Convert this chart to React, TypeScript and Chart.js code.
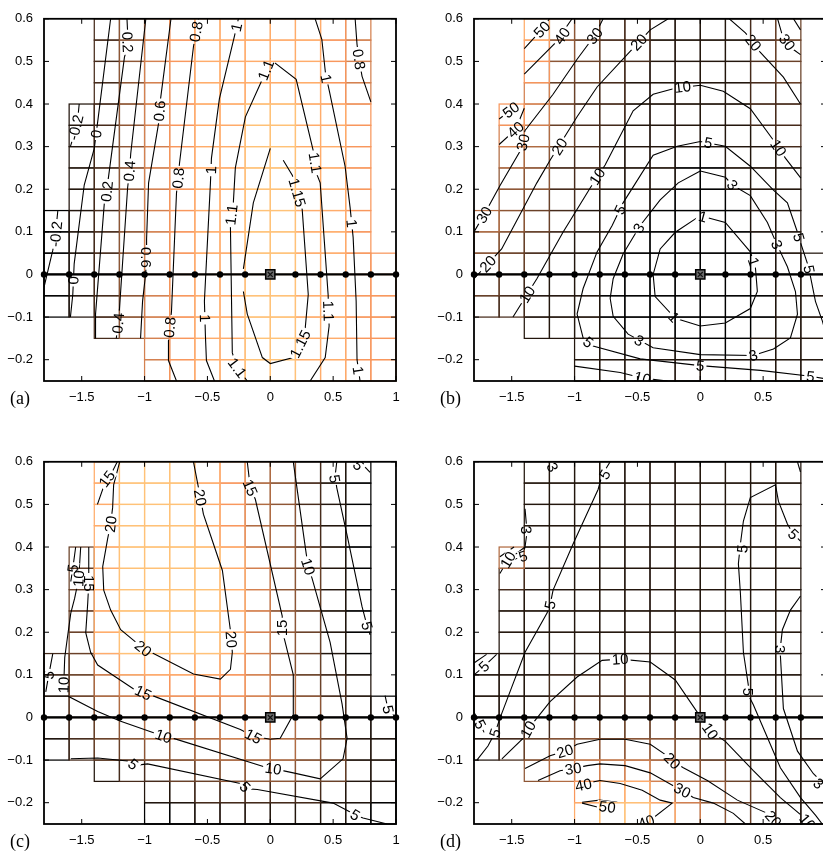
import React, { useEffect, useRef } from 'react';
import { Chart, registerables } from 'chart.js';
Chart.register(...registerables);

type Pt = [number, number];
interface Contour { text: string; lines: Pt[][]; labels: Pt[] }

// ---------- axes / mesh ----------
const xTicks = [-1.5, -1, -0.5, 0, 0.5, 1];
const yTicks = [-0.2, -0.1, 0, 0.1, 0.2, 0.3, 0.4, 0.5, 0.6];
const meshNodesX = [-1.8, -1.6, -1.4, -1.2, -1.0, -0.8, -0.6, -0.4, -0.2, 0, 0.2, 0.4, 0.6, 0.8, 1.0];
const cellEdgesX = [-1.8, -1.6, -1.4, -1.2, -1.0, -0.8, -0.6, -0.4, -0.2, 0, 0.2, 0.4, 0.6, 0.8, 1.0];
const cellEdgesY = [0.6, 0.55, 0.5, 0.45, 0.4, 0.35, 0.3, 0.25, 0.2, 0.15, 0.1, 0.05, 0, -0.05, -0.1, -0.15, -0.2, -0.25];
const sourcePoint: Pt = [0, 0];

// cell shade (0 = dark ... 9 = light orange), '.' = no cell; rows top->bottom, cols left->right
const shadeA = [
  '..24678888876.', '..24678888876.', '..24678888876.', '..24678888876.',
  '.124678899887.', '.124678899887.', '.124678899887.', '.124678899887.', '.124678899887.',
  '0124678899887.', '0124678899887.', '01246788998877', '01246788998877', '01246788998877',
  '..246788998877', '....6788998877', '....6788998877',
];
const shadeB = [
  '..84322111123.', '..74322111123.', '..73321111123.', '..63221111122.',
  '.763221111122.', '.653211111112.', '.542211100111.', '.442211100111.', '.432111000011.',
  '5432110000011.', '4321110000001.', '33211000000011', '32111000000011', '22111000000011',
  '..111000000011', '....1111000111', '....1111111111',
];
const shadeC = [
  '..89998754210.', '..89998754210.', '..89998754210.', '..89998754210.',
  '.389999864310.', '.389999864310.', '.389999864310.', '.389999864310.', '.389999864310.',
  '2368888764310.', '1356777765321.', '13456666654210', '12345556654210', '02334455554311',
  '..122334443311', '....1122222110', '....0011111100',
];
const shadeD = [
  '..11111111111.', '..11111111111.', '..11111111111.', '..11111111111.',
  '.511111111111.', '.211111111111.', '.111111111111.', '.111111111111.', '.111111111111.',
  '1111111111111.', '1112222211111.', '11122222211111', '11223333221111', '12344444321111',
  '..456665432111', '....7886543211', '....8998643211',
];

// ---------- contour lines & labels ----------
const contoursA: Contour[] = [
  { text: '-0.2', lines: [
    [[-1.52, 0.40], [-1.53, 0.37], [-1.57, 0.32], [-1.59, 0.30]],
    [[-1.69, 0.15], [-1.70, 0.12], [-1.71, 0.09], [-1.73, 0.057], [-1.78, -0.005], [-1.80, -0.03]],
  ], labels: [[-1.548, 0.345], [-1.705, 0.095]] },
  { text: '0', lines: [
    [[-1.27, 0.6], [-1.37, 0.365], [-1.40, 0.296], [-1.48, 0.21], [-1.56, 0.025], [-1.571, -0.047], [-1.59, -0.1]],
  ], labels: [[-1.385, 0.33], [-1.566, -0.014]] },
  { text: '0.2', lines: [
    [[-1.14, 0.6], [-1.13, 0.54], [-1.16, 0.51], [-1.29, 0.222], [-1.30, 0.19], [-1.32, 0.168], [-1.39, -0.093], [-1.39, -0.15]],
  ], labels: [[-1.135, 0.545], [-1.30, 0.195]] },
  { text: '0.4', lines: [
    [[-0.99, 0.6], [-1.11, 0.284], [-1.12, 0.243], [-1.135, 0.203], [-1.20, -0.082], [-1.21, -0.114], [-1.225, -0.15]],
  ], labels: [[-1.12, 0.243], [-1.21, -0.114]] },
  { text: '0.6', lines: [
    [[-0.79, 0.6], [-0.873, 0.412], [-0.881, 0.384], [-0.889, 0.354], [-0.968, 0.215], [-0.984, 0.083], [-0.984, 0.036], [-0.992, 0.0], [-1.016, -0.063], [-1.032, -0.15]],
  ], labels: [[-0.881, 0.384], [-0.984, 0.04]] },
  { text: '0.8', lines: [
    [[-0.571, 0.6], [-0.611, 0.535], [-0.722, 0.261], [-0.746, 0.191], [-0.786, -0.087], [-0.81, -0.156], [-0.81, -0.202], [-0.746, -0.25]],
    [[0.675, 0.6], [0.69, 0.54], [0.706, 0.505], [0.73, 0.465], [0.80, 0.405]],
  ], labels: [[-0.59, 0.57], [-0.732, 0.226], [-0.80, -0.124], [0.706, 0.505]] },
  { text: '1', lines: [
    [[-0.254, 0.6], [-0.286, 0.558], [-0.405, 0.412], [-0.468, 0.273], [-0.476, 0.215], [-0.524, -0.063], [-0.516, -0.144], [-0.508, -0.202], [-0.444, -0.25]],
    [[0.357, 0.6], [0.41, 0.552], [0.44, 0.47], [0.47, 0.43], [0.595, 0.254], [0.635, 0.157], [0.659, 0.087], [0.683, -0.063], [0.69, -0.2], [0.714, -0.25]],
  ], labels: [[-0.27, 0.58], [-0.472, 0.245], [-0.52, -0.103], [0.445, 0.46], [0.648, 0.12], [0.70, -0.225]] },
  { text: '1.1', lines: [
    [[-0.183, -0.25], [-0.262, -0.219], [-0.302, -0.184], [-0.317, 0.111], [-0.294, 0.168], [-0.278, 0.25], [-0.198, 0.37], [-0.063, 0.458], [0, 0.505], [0.206, 0.458], [0.341, 0.291], [0.373, 0.233], [0.397, 0.215], [0.46, -0.047], [0.468, -0.121], [0.437, -0.195], [0.317, -0.25]],
  ], labels: [[-0.262, -0.219], [-0.31, 0.14], [-0.035, 0.48], [0.357, 0.262], [0.463, -0.086]] },
  { text: '1.15', lines: [
    [[0, 0.296], [-0.135, 0.168], [-0.214, 0.013]],
    [[-0.214, -0.04], [-0.183, -0.093], [-0.063, -0.195], [0, -0.209], [0.183, -0.195], [0.238, -0.163], [0.278, -0.126], [0.302, -0.047], [0.254, 0.152], [0.214, 0.192], [0.175, 0.233], [0.103, 0.268]],
  ], labels: [[0.238, -0.163], [0.214, 0.192]] },
];

const contoursB: Contour[] = [
  { text: '50', lines: [
    [[-1.4, 0.53], [-1.26, 0.575], [-1.2, 0.6]],
    [[-1.6, 0.365], [-1.506, 0.386], [-1.45, 0.4]],
  ], labels: [[-1.26, 0.575], [-1.506, 0.386]] },
  { text: '40', lines: [
    [[-1.4, 0.47], [-1.155, 0.543], [-1.02, 0.6]],
    [[-1.6, 0.305], [-1.47, 0.34], [-1.4, 0.39]],
    [[0.733, 0.604], [0.797, 0.574]],
  ], labels: [[-1.10, 0.56], [-1.47, 0.34]] },
  { text: '30', lines: [
    [[-1.8, 0.1], [-1.72, 0.14], [-1.594, 0.208], [-1.434, 0.289], [-1.394, 0.338], [-1.171, 0.423], [-0.98, 0.505], [-0.837, 0.562], [-0.773, 0.6]],
    [[0.611, 0.604], [0.651, 0.563], [0.741, 0.528], [0.797, 0.516]],
  ], labels: [[-1.72, 0.14], [-1.41, 0.31], [-0.84, 0.56], [0.69, 0.545]] },
  { text: '20', lines: [
    [[-1.8, -0.01], [-1.69, 0.025], [-1.58, 0.06], [-1.30, 0.215], [-1.195, 0.268], [-0.98, 0.37], [-0.821, 0.44], [-0.582, 0.516], [-0.398, 0.574], [-0.255, 0.6]],
    [[0.215, 0.604], [0.359, 0.567], [0.422, 0.544], [0.478, 0.521], [0.661, 0.463], [0.797, 0.40]],
  ], labels: [[-1.69, 0.025], [-1.12, 0.30], [-0.49, 0.545], [0.422, 0.544]] },
  { text: '10', lines: [
    [[-1.49, -0.1], [-1.378, -0.047], [-1.30, -0.01], [-1.092, 0.099], [-0.876, 0.203], [-0.757, 0.257], [-0.534, 0.384], [-0.375, 0.423], [-0.2, 0.437], [0, 0.444], [0.183, 0.43], [0.398, 0.389], [0.582, 0.315], [0.677, 0.273], [0.8, 0.226]],
    [[-1.0, -0.215], [-0.637, -0.23], [-0.46, -0.243], [-0.26, -0.25]],
  ], labels: [[-1.378, -0.047], [-0.82, 0.23], [-0.14, 0.44], [0.622, 0.297], [-0.46, -0.243]] },
  { text: '5', lines: [
    [[1.0, -0.14], [0.972, -0.11], [0.916, -0.063], [0.861, 0.018], [0.797, 0.075], [0.773, 0.099], [0.693, 0.168], [0.582, 0.198], [0.398, 0.254], [0.199, 0.301], [0, 0.312], [-0.183, 0.301], [-0.375, 0.28], [-0.614, 0.168], [-0.701, 0.115], [-0.821, 0.053], [-0.932, -0.033], [-0.98, -0.093], [-0.932, -0.149], [-0.853, -0.168], [-0.478, -0.198], [0, -0.214], [0.478, -0.225], [0.876, -0.239], [1.0, -0.245]],
  ], labels: [[0.785, 0.087], [0.064, 0.309], [-0.64, 0.152], [-0.892, -0.159], [0, -0.214], [0.876, -0.239], [0.865, 0.012]] },
  { text: '3', lines: [
    [[0, 0.243], [0.2, 0.228], [0.255, 0.21], [0.398, 0.185], [0.534, 0.122], [0.61, 0.07], [0.693, 0.018], [0.757, -0.04], [0.773, -0.093], [0.717, -0.149], [0.582, -0.175], [0.42, -0.19], [0, -0.188], [-0.375, -0.172], [-0.574, -0.14], [-0.693, -0.098], [-0.717, -0.056], [-0.693, -0.01], [-0.614, 0.048], [-0.478, 0.115], [-0.319, 0.175], [-0.175, 0.215], [0, 0.243]],
  ], labels: [[0.255, 0.21], [0.61, 0.07], [0.42, -0.19], [-0.486, -0.155], [-0.49, 0.109]] },
  { text: '1', lines: [
    [[0, 0.138], [0.199, 0.122], [0.398, 0.053], [0.438, 0.018], [0.454, -0.04], [0.398, -0.08], [0.199, -0.114], [0, -0.121], [-0.199, -0.103], [-0.359, -0.052], [-0.375, 0], [-0.319, 0.06], [-0.199, 0.099], [0, 0.138]],
  ], labels: [[0.02, 0.136], [0.425, 0.03], [-0.21, -0.10]] },
];

const contoursC: Contour[] = [
  { text: '20', lines: [
    [[-1.198, 0.6], [-1.246, 0.546], [-1.254, 0.493], [-1.27, 0.454], [-1.294, 0.419], [-1.333, 0.354], [-1.325, 0.299], [-1.27, 0.252], [-1.19, 0.206], [-1.087, 0.181], [-1.008, 0.162], [-0.929, 0.15], [-0.611, 0.102], [-0.397, 0.09], [-0.317, 0.113], [-0.302, 0.153], [-0.31, 0.183], [-0.317, 0.204], [-0.381, 0.345], [-0.532, 0.477], [-0.556, 0.516], [-0.579, 0.551], [-0.611, 0.6]],
  ], labels: [[-1.27, 0.454], [-1.01, 0.162], [-0.31, 0.183], [-0.556, 0.516]] },
  { text: '15', lines: [
    [[-1.217, 0.6], [-1.26, 0.575], [-1.31, 0.555], [-1.375, 0.5]],
    [[-1.444, 0.4], [-1.444, 0.315], [-1.452, 0.269], [-1.468, 0.199], [-1.429, 0.153], [-1.373, 0.123], [-1.087, 0.067], [-1.008, 0.056], [-0.952, 0.053], [-0.238, -0.028], [-0.135, -0.044], [0, -0.051], [0.079, -0.049], [0.183, 0.007], [0.183, 0.1], [0.119, 0.176], [0.095, 0.204], [0.095, 0.238], [-0.119, 0.512], [-0.159, 0.539], [-0.183, 0.6]],
  ], labels: [[-1.30, 0.56], [-1.444, 0.315], [-1.01, 0.058], [-0.135, -0.044], [0.095, 0.21], [-0.159, 0.539]] },
  { text: '10', lines: [
    [[-1.508, 0.4], [-1.524, 0.326], [-1.556, 0.28], [-1.587, 0.245], [-1.619, 0.176], [-1.635, 0.141], [-1.643, 0.076], [-1.603, 0.049], [-1.373, 0.014], [-1.19, -0.009], [-0.849, -0.044], [-0.77, -0.049], [-0.024, -0.118], [0.024, -0.12], [0.183, -0.13], [0.397, -0.144], [0.579, -0.097], [0.611, -0.049], [0.571, 0.032], [0.476, 0.176], [0.333, 0.326], [0.302, 0.354], [0.286, 0.384], [0.183, 0.6]],
  ], labels: [[-1.524, 0.326], [-1.643, 0.076], [-0.849, -0.044], [0.024, -0.12], [0.302, 0.354]] },
  { text: '5', lines: [
    [[-1.548, 0.4], [-1.571, 0.35], [-1.587, 0.319]],
    [[-1.73, 0.15], [-1.762, 0.1], [-1.786, 0.06]],
    [[-1.587, -0.097], [-1.373, -0.095], [-1.135, -0.102], [-1.087, -0.113], [-0.976, -0.109], [-0.238, -0.155], [-0.198, -0.167], [-0.103, -0.169], [0.5, -0.201], [0.635, -0.222], [0.675, -0.229], [0.738, -0.236], [0.929, -0.25]],
    [[0.529, 0.6], [0.515, 0.565], [0.529, 0.539], [0.609, 0.43], [0.73, 0.26], [0.77, 0.215], [0.794, 0.194]],
    [[0.913, 0.051], [0.937, 0.019], [1.0, 0.0]],
    [[0.714, 0.6], [0.794, 0.575]],
  ], labels: [[-1.571, 0.35], [-1.762, 0.1], [-1.09, -0.11], [-0.2, -0.163], [0.675, -0.229], [0.513, 0.56], [0.77, 0.215], [0.937, 0.019], [0.70, 0.592]] },
];

const contoursD: Contour[] = [
  { text: '3', lines: [
    [[-1.205, 0.6], [-1.18, 0.585]],
    [[-1.394, 0.49], [-1.378, 0.435], [-1.394, 0.4]],
    [[0.797, 0.285], [0.717, 0.252], [0.653, 0.206], [0.637, 0.164], [0.637, 0.146], [0.661, 0.021], [0.773, -0.079], [0.9, -0.132], [0.956, -0.148], [1.0, -0.16]],
  ], labels: [[-1.175, 0.587], [-1.385, 0.44], [0.637, 0.16], [0.94, -0.155]] },
  { text: '5', lines: [
    [[-0.717, 0.6], [-0.781, 0.569], [-0.813, 0.535], [-1.012, 0.407], [-1.171, 0.299], [-1.195, 0.264], [-1.219, 0.245], [-1.394, 0.153], [-1.514, 0.06], [-1.594, -0.002], [-1.633, -0.036], [-1.689, -0.067], [-1.777, -0.1]],
    [[-1.62, 0.148], [-1.72, 0.12], [-1.8, 0.1]],
    [[-1.70, 0.148], [-1.8, 0.128]],
    [[-1.8, 0.012], [-1.75, -0.016], [-1.72, -0.035]],
    [[-1.59, 0.36], [-1.41, 0.378], [-1.395, 0.4]],
    [[0.773, 0.6], [0.797, 0.576]],
    [[0.797, 0.414], [0.741, 0.43], [0.693, 0.454], [0.622, 0.507], [0.598, 0.546], [0.398, 0.516], [0.343, 0.461], [0.319, 0.407], [0.303, 0.361], [0.319, 0.292], [0.343, 0.153], [0.382, 0.076], [0.382, 0.053], [0.422, 0.03], [0.637, -0.118], [0.797, -0.188], [0.916, -0.229], [0.97, -0.25]],
  ], labels: [[-0.76, 0.57], [-1.195, 0.264], [-1.633, -0.036], [-1.72, 0.12], [-1.75, -0.016], [-1.41, 0.378], [0.741, 0.43], [0.335, 0.396], [0.382, 0.06]] },
  { text: '10', lines: [
    [[-1.578, -0.097], [-1.41, -0.049], [-1.371, -0.028], [-1.195, 0.037], [-0.98, 0.095], [-0.781, 0.134], [-0.637, 0.137], [-0.398, 0.13], [-0.199, 0.088], [0, 0.002], [0.08, -0.032], [0.199, -0.056], [0.422, -0.125], [0.637, -0.188], [0.821, -0.234], [0.853, -0.245], [0.87, -0.25]],
    [[-1.594, 0.338], [-1.53, 0.37], [-1.394, 0.4]],
    [[-1.594, 0.377], [-1.482, 0.4]],
  ], labels: [[-1.371, -0.028], [-0.637, 0.137], [0.08, -0.032], [0.853, -0.245], [-1.53, 0.37]] },
  { text: '20', lines: [
    [[-1.394, -0.12], [-1.195, -0.09], [-1.076, -0.079], [-0.98, -0.063], [-0.797, -0.051], [-0.598, -0.051], [-0.398, -0.063], [-0.263, -0.09], [-0.223, -0.102], [-0.135, -0.118], [0.056, -0.148], [0.295, -0.194], [0.534, -0.225], [0.582, -0.241], [0.693, -0.252]],
  ], labels: [[-1.076, -0.079], [-0.223, -0.102], [0.582, -0.238]] },
  { text: '30', lines: [
    [[-1.291, -0.148], [-1.116, -0.125], [-1.012, -0.12], [-0.9, -0.113], [-0.797, -0.109], [-0.598, -0.113], [-0.398, -0.13], [-0.215, -0.16], [-0.143, -0.171], [-0.056, -0.188], [0.104, -0.201], [0.263, -0.225], [0.359, -0.25]],
  ], labels: [[-1.012, -0.12], [-0.143, -0.171]] },
  { text: '40', lines: [
    [[-0.996, -0.16], [-0.797, -0.148], [-0.637, -0.155], [-0.462, -0.171], [-0.319, -0.194], [-0.223, -0.201], [-0.375, -0.236], [-0.502, -0.25]],
  ], labels: [[-0.93, -0.158], [-0.43, -0.245]] },
  { text: '50', lines: [
    [[-0.94, -0.199], [-0.80, -0.194], [-0.66, -0.199]],
    [[-0.94, -0.201], [-0.82, -0.21]],
  ], labels: [[-0.74, -0.21]] },
];

const panelLetters = ['(a)', '(b)', '(c)', '(d)'];

// ---------- drawing ----------
const SANS = '"Liberation Sans", Arial, Helvetica, sans-serif';
const LABEL_FONT = '15px ' + SANS;

function fmtTick(v: number) {
  const s = String(Math.round(v * 100) / 100);
  return s.replace('-', '\u2212');
}

function copper(d: number) {
  const t = d / 9;
  const r = Math.min(1, 1.25 * t), g = 0.76 * t, b = 0.47 * t;
  return `rgb(${Math.round(r * 255)},${Math.round(g * 255)},${Math.round(b * 255)})`;
}

function segDist(px: number, py: number, ax: number, ay: number, bx: number, by: number) {
  const dx = bx - ax, dy = by - ay;
  const L = dx * dx + dy * dy;
  let t = L > 0 ? ((px - ax) * dx + (py - ay) * dy) / L : 0;
  t = Math.max(0, Math.min(1, t));
  const qx = ax + t * dx - px, qy = ay + t * dy - py;
  return Math.sqrt(qx * qx + qy * qy);
}

interface PanelCfg { letter: string; shade: string[]; contours: Contour[]; left: number; top: number }

function makeDecor(p: PanelCfg) {
  let boxes: { px: number; py: number; ang: number; w: number; h: number; text: string }[] = [];
  return {
    id: 'decor',
    beforeDatasetsDraw(chart: any) {
      const { ctx } = chart;
      const xs = chart.scales.x, ys = chart.scales.y;
      const cells: { r: number; c: number; d: number }[] = [];
      p.shade.forEach((row, r) => {
        for (let c = 0; c < row.length; c++) {
          const ch = row[c];
          if (ch !== '.') cells.push({ r, c, d: Number(ch) });
        }
      });
      cells.sort((a, b) => a.d - b.d);
      ctx.save();
      ctx.lineWidth = 1.25;
      for (const cell of cells) {
        const x0 = xs.getPixelForValue(cellEdgesX[cell.c]);
        const x1 = xs.getPixelForValue(cellEdgesX[cell.c + 1]);
        const y0 = ys.getPixelForValue(cellEdgesY[cell.r]);
        const y1 = ys.getPixelForValue(cellEdgesY[cell.r + 1]);
        ctx.strokeStyle = copper(cell.d);
        ctx.strokeRect(x0, y0, x1 - x0, y1 - y0);
      }
      ctx.restore();

      ctx.save();
      ctx.font = LABEL_FONT;
      boxes = [];
      for (const ct of p.contours) {
        for (const lb of ct.labels) {
          const px = xs.getPixelForValue(lb[0]), py = ys.getPixelForValue(lb[1]);
          let best = Infinity, ang = 0;
          for (const ln of ct.lines) {
            for (let i = 0; i < ln.length - 1; i++) {
              const ax = xs.getPixelForValue(ln[i][0]), ay = ys.getPixelForValue(ln[i][1]);
              const bx = xs.getPixelForValue(ln[i + 1][0]), by = ys.getPixelForValue(ln[i + 1][1]);
              const d = segDist(px, py, ax, ay, bx, by);
              if (d < best) { best = d; ang = Math.atan2(by - ay, bx - ax); }
            }
          }
          if (ang > Math.PI / 2) ang -= Math.PI;
          if (ang < -Math.PI / 2) ang += Math.PI;
          const w = ctx.measureText(ct.text).width + 4;
          boxes.push({ px, py, ang, w, h: 12, text: ct.text });
        }
      }
      ctx.restore();
    },
    beforeDatasetDraw(chart: any, args: any) {
      const ds = chart.data.datasets[args.index];
      if (!ds.isContour) return;
      const ctx = chart.ctx;
      ctx.save();
      ctx.beginPath();
      ctx.rect(0, 0, chart.width, chart.height);
      for (const b of boxes) {
        const c = Math.cos(b.ang), s = Math.sin(b.ang);
        const hw = b.w / 2, hh = b.h / 2;
        const pts = [[-hw, -hh], [hw, -hh], [hw, hh], [-hw, hh]].map(([u, v]) => [b.px + u * c - v * s, b.py + u * s + v * c]);
        ctx.moveTo(pts[0][0], pts[0][1]);
        for (let i = 1; i < 4; i++) ctx.lineTo(pts[i][0], pts[i][1]);
        ctx.closePath();
      }
      ctx.clip('evenodd');
    },
    afterDatasetDraw(chart: any, args: any) {
      const ds = chart.data.datasets[args.index];
      if (ds.isContour) chart.ctx.restore();
    },
    afterDatasetsDraw(chart: any) {
      const { ctx, chartArea: a } = chart;
      ctx.save();
      ctx.beginPath();
      ctx.rect(a.left, a.top, a.right - a.left, a.bottom - a.top);
      ctx.clip();
      ctx.font = LABEL_FONT;
      ctx.fillStyle = '#000';
      ctx.textAlign = 'center';
      ctx.textBaseline = 'middle';
      for (const b of boxes) {
        ctx.save();
        ctx.translate(b.px, b.py);
        ctx.rotate(b.ang);
        ctx.fillText(b.text, 0, 1);
        ctx.restore();
      }
      ctx.restore();
    },
    afterDraw(chart: any) {
      const { ctx, chartArea: a } = chart;
      const xs = chart.scales.x, ys = chart.scales.y;
      ctx.save();
      ctx.strokeStyle = '#000';
      ctx.lineWidth = 1;
      const tl = 5;
      ctx.beginPath();
      for (const v of xTicks) {
        const px = xs.getPixelForValue(v);
        ctx.moveTo(px, a.bottom); ctx.lineTo(px, a.bottom - tl);
        ctx.moveTo(px, a.top); ctx.lineTo(px, a.top + tl);
      }
      for (const v of yTicks) {
        const py = ys.getPixelForValue(v);
        ctx.moveTo(a.left, py); ctx.lineTo(a.left + tl, py);
        ctx.moveTo(a.right, py); ctx.lineTo(a.right - tl, py);
      }
      ctx.stroke();
      ctx.lineWidth = 1.8;
      ctx.strokeRect(a.left, a.top, a.right - a.left, a.bottom - a.top);
      ctx.font = '18px "Liberation Serif", "Times New Roman", serif';
      ctx.fillStyle = '#000';
      ctx.textAlign = 'left';
      ctx.textBaseline = 'middle';
      ctx.fillText(p.letter, a.left - 34, a.bottom + 18);
      ctx.restore();
    },
  };
}

function buildConfig(p: PanelCfg): any {
  const datasets: any[] = [];
  p.contours.forEach((ct) => ct.lines.forEach((ln) => datasets.push({
    data: ln.map(([x, y]) => ({ x, y })),
    showLine: true, borderColor: '#000', borderWidth: 1.1, pointRadius: 0, pointHoverRadius: 0,
    tension: 0, isContour: true, order: 10,
  })));
  datasets.push({
    data: meshNodesX.map((x) => ({ x, y: 0 })),
    showLine: true, borderColor: '#000', borderWidth: 2.2, pointRadius: 3.2, pointHoverRadius: 3.2,
    pointBackgroundColor: '#000', pointBorderColor: '#000', pointBorderWidth: 0, order: 2, clip: false,
  });
  datasets.push({
    data: [{ x: sourcePoint[0], y: sourcePoint[1] }], showLine: false, pointStyle: 'rect',
    pointRadius: 6.5, pointHoverRadius: 6.5, pointBackgroundColor: '#6a6a6a', pointBorderColor: '#000', pointBorderWidth: 1.5, order: 1,
  });
  datasets.push({
    data: [{ x: sourcePoint[0], y: sourcePoint[1] }], showLine: false, pointStyle: 'crossRot',
    pointRadius: 3.5, pointHoverRadius: 3.5, pointBorderColor: '#111', pointBorderWidth: 1.2, order: 0,
  });
  const tickFont = { family: SANS, size: 13 };
  return {
    type: 'scatter',
    data: { datasets },
    plugins: [makeDecor(p)],
    options: {
      animation: false,
      responsive: false,
      events: [],
      layout: { padding: { left: 0, top: 12, right: 14, bottom: 0 } },
      plugins: { legend: { display: false }, tooltip: { enabled: false } },
      scales: {
        x: {
          type: 'linear', position: 'bottom', min: -1.8, max: 1.0,
          grid: { display: false, drawTicks: false }, border: { display: false },
          ticks: { autoSkip: false, maxRotation: 0, padding: 9, color: '#000', font: tickFont, callback: (v: number) => fmtTick(v) },
          afterBuildTicks: (s: any) => { s.ticks = xTicks.map((v) => ({ value: v })); },
          afterFit: (s: any) => { s.height = 39; },
        },
        y: {
          type: 'linear', position: 'left', min: -0.25, max: 0.6,
          grid: { display: false, drawTicks: false }, border: { display: false },
          ticks: { autoSkip: false, padding: 11, color: '#000', font: tickFont, callback: (v: number) => fmtTick(v) },
          afterBuildTicks: (s: any) => { s.ticks = yTicks.map((v) => ({ value: v })); },
          afterFit: (s: any) => { s.width = 44; },
        },
      },
    },
  };
}

function Panel({ cfg }: { cfg: PanelCfg }) {
  const ref = useRef<HTMLCanvasElement>(null);
  useEffect(() => {
    if (!ref.current) return;
    const chart = new Chart(ref.current, buildConfig(cfg));
    return () => chart.destroy();
  }, [cfg]);
  return (
    <canvas ref={ref} width={410} height={420}
      style={{ position: 'absolute', left: cfg.left, top: cfg.top, width: 410, height: 420 }} />
  );
}

const panels: PanelCfg[] = [
  { letter: panelLetters[0], shade: shadeA, contours: contoursA, left: 0, top: 0 },
  { letter: panelLetters[1], shade: shadeB, contours: contoursB, left: 430, top: 0 },
  { letter: panelLetters[2], shade: shadeC, contours: contoursC, left: 0, top: 443 },
  { letter: panelLetters[3], shade: shadeD, contours: contoursD, left: 430, top: 443 },
];

export default function App() {
  return (
    <div style={{ position: 'fixed', left: 0, top: 0, width: 823, height: 852, overflow: 'hidden', background: '#fff' }}>
      {panels.map((p) => <Panel key={p.letter} cfg={p} />)}
    </div>
  );
}
